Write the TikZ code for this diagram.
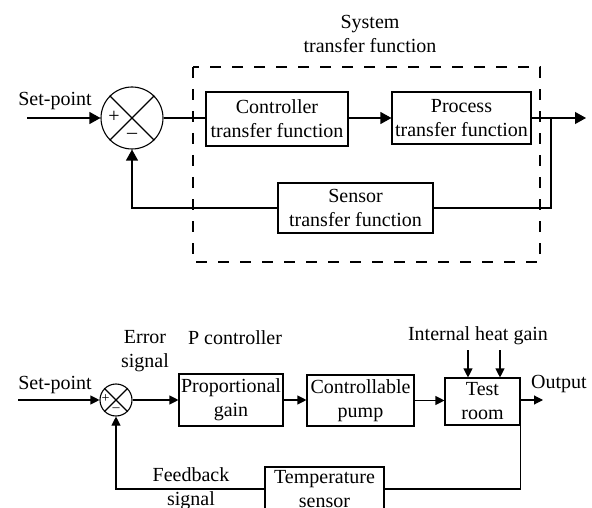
\documentclass[tikz,border=0pt]{standalone}
\usepackage{fontspec}
\setmainfont{Liberation Serif}
\usetikzlibrary{arrows.meta}
\begin{document}
\begin{tikzpicture}[x=1pt,y=-1pt,
  every node/.style={font=\fontsize{20}{24}\selectfont, inner sep=0pt, align=center},
  blk/.style={draw, line width=1.1pt, rectangle},
  sumc/.style={draw, line width=1.1pt, circle},
  wire/.style={line width=1.1pt},
  arr/.style={wire, -{Triangle[length=11pt,width=12pt]}},
  arrs/.style={wire, -{Triangle[length=9pt,width=9pt]}},
  sgn/.style={font=\fontsize{20}{20}\selectfont},
  sgns/.style={font=\fontsize{14}{14}\selectfont}
]
\useasboundingbox (0,0) rectangle (592,508);
\clip (0,0) rectangle (592,508);

% ---------- top diagram ----------
\node (systxt) at (370,34) {System\\transfer function};
\draw[wire, dash pattern=on 11pt off 11pt] (193,67) rectangle (540,262);
\node[sumc, minimum size=62pt] (sum1) at (132,118) {};
\draw[wire] (sum1.45) -- (sum1.225);
\draw[wire] (sum1.135) -- (sum1.-45);
\node[sgn] (p1) at (114,117) {+};
\node[sgn] (m1) at (132,136) {\textendash};
\node[blk, minimum width=142pt, minimum height=54pt] (ctrl) at (277,119) {Controller\\transfer function};
\node[blk, minimum width=139pt, minimum height=52pt] (proc) at (461.5,118) {Process\\transfer function};
\node[blk, minimum width=155pt, minimum height=50pt] (sens) at (355.5,208) {Sensor\\transfer function};
\node (sp1t) at (55,101) {Set-point};
\coordinate (sp1) at (27,118);
\coordinate (out1) at (586,118);
\coordinate (br1) at (551,118);
\draw[arr] (sp1) -- (sum1.west);
\draw[wire] (sum1.east) -- (ctrl.west |- sum1.east);
\draw[arr] (ctrl.east |- proc.west) -- (proc.west);
\draw[arr] (proc.east) -- (out1);
\draw[wire] (br1) |- (sens.east);
\draw[arr] (sens.west) -| (sum1.south);

% ---------- bottom diagram ----------
\node (errt) at (145,351) {Error\\signal};
\node (pct) at (235,338) {P controller};
\node (iht) at (478,336) {Internal heat gain};
\node (outt) at (559,384) {Output};
\node (sp2t) at (55,385) {Set-point};
\node[sumc, minimum size=32pt] (sum2) at (116,400) {};
\draw[wire] (sum2.45) -- (sum2.225);
\draw[wire] (sum2.135) -- (sum2.-45);
\node[sgns] (p2) at (105.5,399) {+};
\node[sgns] (m2) at (116,410) {\textendash};
\node[blk, minimum width=104pt, minimum height=52pt] (prop) at (231,400) {Proportional\\gain};
\node[blk, minimum width=107pt, minimum height=51pt] (pump) at (360.5,400.5) {Controllable\\pump};
\node[blk, minimum width=75pt, minimum height=47pt] (room) at (482.5,401.5) {Test\\room};
\node[blk, minimum width=119pt, minimum height=44pt] (tsens) at (324.5,489) {Temperature\\sensor};
\node (fbt) at (191,489) {Feedback\\signal};
\coordinate (sp2) at (18,400);
\coordinate (out2) at (543,400);
\coordinate (h1) at (468,350);
\coordinate (h2) at (500,350);
\draw[arrs] (sp2) -- (sum2.west);
\draw[arrs] (sum2.east) -- (prop.west);
\draw[arrs] (prop.east) -- (pump.west |- prop.east);
\draw[arrs] (pump.east) -- (room.west |- pump.east);
\draw[arrs] (room.east |- out2) -- (out2);
\draw[arrs] (h1) -- (h1 |- room.north);
\draw[arrs] (h2) -- (h2 |- room.north);
\draw[wire] (room.east |- out2) |- (tsens.east);
\draw[arrs] (tsens.west) -| (sum2.south);
\end{tikzpicture}
\end{document}
